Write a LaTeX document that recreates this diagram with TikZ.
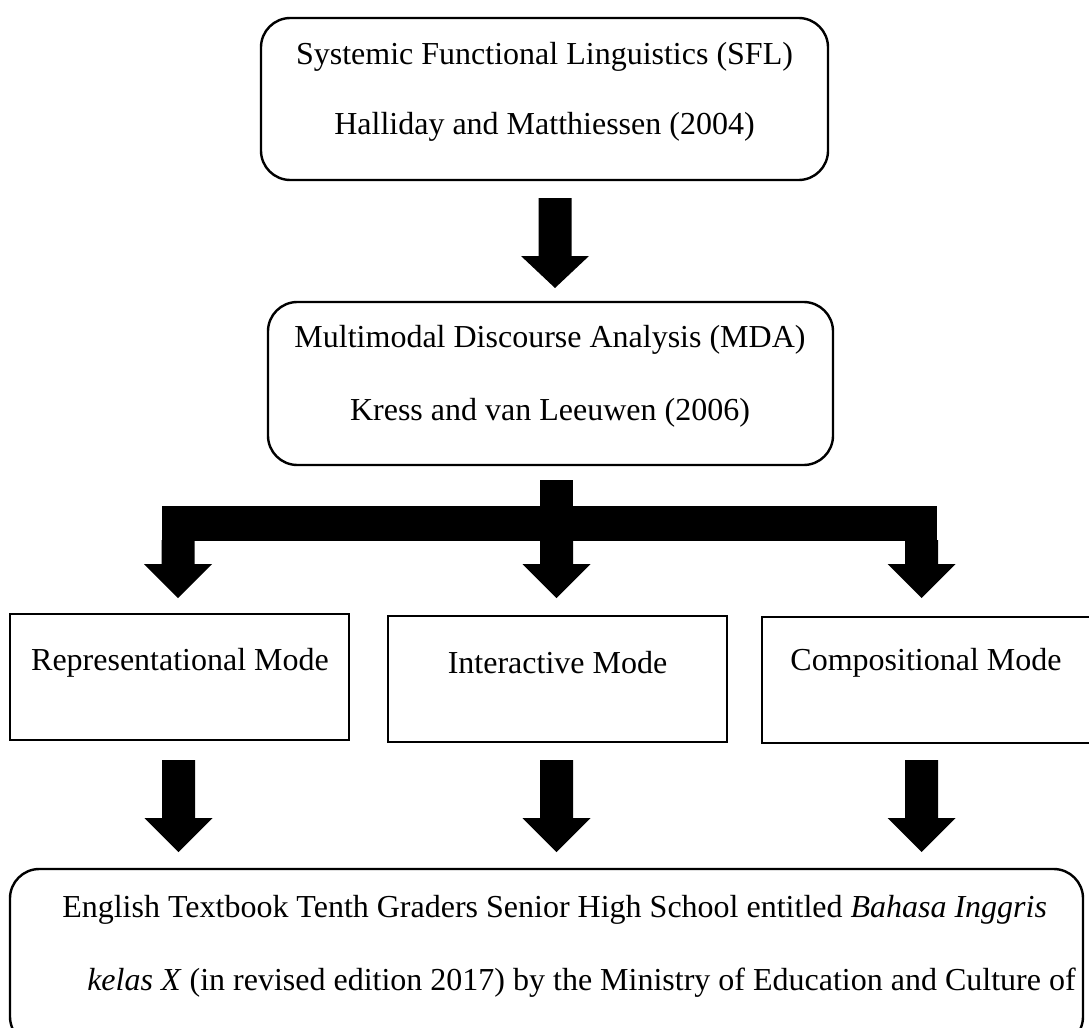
\documentclass[tikz,border=0pt]{standalone}
\usepackage{fontspec}
\setmainfont{Liberation Serif}
\usetikzlibrary{fit}
\newcommand\barrow[4]{%
  \fill (#1-16.5,#2) -- (#1+16.5,#2) -- (#1+16.5,#3) -- (#1+34,#3) -- (#1,#4) -- (#1-34,#3) -- (#1-16.5,#3) -- cycle;}
\tikzset{
  rbox/.style={draw, line width=1.8pt, rounded corners=22pt, inner sep=0pt},
  sbox/.style={draw, line width=1.5pt, inner sep=0pt},
  txt/.style={inner sep=0pt, font=\fontsize{24}{28}\selectfont}
}
\begin{document}
\begin{tikzpicture}[x=0.75pt,y=-0.75pt]
\useasboundingbox (0,0) rectangle (1089,1028);
\clip (0,0) rectangle (1089,1028);
% boxes
\node[rbox, fit={(261,18)(828,180)}] (sfl) {};
\node[rbox, fit={(268,302)(833,465)}] (mda) {};
\node[sbox, fit={(10,614)(349,740)}] (rep) {};
\node[sbox, fit={(388,616)(727,742)}] (int) {};
\node[sbox, fit={(762,617)(1095,743)}] (com) {};
\node[rbox, fit={(10,869)(1083,1046)}] (book) {};
% texts
\node[txt] (t1) at (544.5,57) {Systemic Functional Linguistics (SFL)};
\node[txt] (t2) at (544.5,127) {Halliday and Matthiessen (2004)};
\node[txt] (t3) at (550,340) {Multimodal Discourse Analysis (MDA)};
\node[txt] (t4) at (550,413) {Kress and van Leeuwen (2006)};
\node[txt] (t5) at (180,663) {Representational Mode};
\node[txt] (t6) at (557.5,663) {Interactive Mode};
\node[txt] (t7) at (926,663) {Compositional Mode};
\node[txt, anchor=base west] (t8) at (62,917) {English Textbook Tenth Graders Senior High School entitled \textit{Bahasa Inggris}};
\node[txt, anchor=base west] (t9) at (87,990) {\textit{kelas X} (in revised edition 2017) by the Ministry of Education and Culture of};
% arrows
\barrow{555}{198}{256}{288}
\fill (540,480) rectangle (573,541);
\fill (162,506) rectangle (937,541);
\barrow{178}{540}{564}{598}
\barrow{556.5}{540}{564}{598}
\barrow{921.5}{540}{564}{598}
\barrow{178.5}{760}{818}{852}
\barrow{556.5}{760}{818}{852}
\barrow{921.5}{760}{818}{852}
\end{tikzpicture}
\end{document}
